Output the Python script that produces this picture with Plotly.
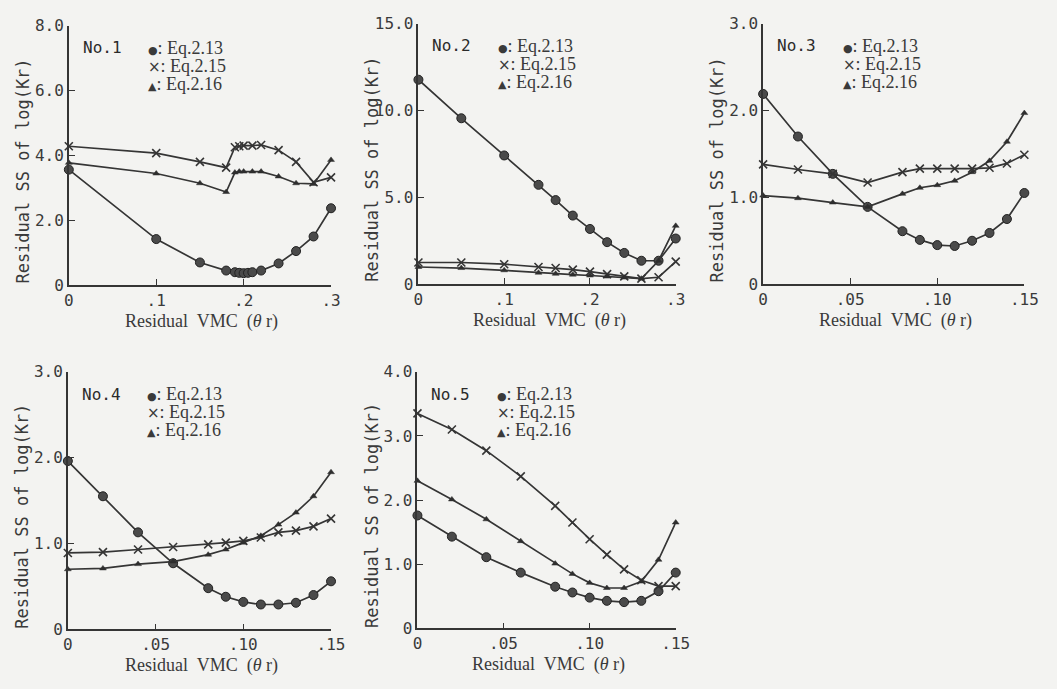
import plotly.graph_objects as go

W, H = 1057, 689

# ---------------- data ----------------
# Panel No.1
P1_X_CIRC = [0, 0.10, 0.15, 0.18, 0.19, 0.195, 0.20, 0.205, 0.21, 0.22, 0.24, 0.26, 0.28, 0.30]
P1_CIRC = [3.56, 1.42, 0.70, 0.45, 0.40, 0.38, 0.37, 0.38, 0.40, 0.45, 0.67, 1.05, 1.50, 2.37]
P1_X = [0, 0.10, 0.15, 0.18, 0.19, 0.195, 0.20, 0.21, 0.22, 0.24, 0.26, 0.28, 0.30]
P1_CROSS = [4.28, 4.07, 3.80, 3.62, 4.25, 4.28, 4.30, 4.30, 4.32, 4.16, 3.80, 3.17, 3.32]
P1_TRI = [3.77, 3.44, 3.14, 2.87, 3.47, 3.50, 3.50, 3.50, 3.50, 3.35, 3.14, 3.12, 3.86]

# Panel No.2
P2_X = [0, 0.05, 0.10, 0.14, 0.16, 0.18, 0.20, 0.22, 0.24, 0.26, 0.28, 0.30]
P2_CIRC = [11.77, 9.55, 7.41, 5.72, 4.84, 3.95, 3.18, 2.42, 1.80, 1.35, 1.35, 2.63]
P2_CROSS = [1.25, 1.25, 1.15, 0.99, 0.93, 0.84, 0.72, 0.58, 0.45, 0.32, 0.40, 1.30]
P2_TRI = [0.99, 0.93, 0.80, 0.66, 0.60, 0.55, 0.50, 0.44, 0.38, 0.32, 1.35, 3.36]

# Panel No.3
P3_X = [0, 0.02, 0.04, 0.06, 0.08, 0.09, 0.10, 0.11, 0.12, 0.13, 0.14, 0.15]
P3_CIRC = [2.19, 1.70, 1.27, 0.89, 0.61, 0.51, 0.45, 0.44, 0.50, 0.59, 0.75, 1.05]
P3_CROSS = [1.38, 1.32, 1.27, 1.17, 1.29, 1.33, 1.33, 1.33, 1.33, 1.34, 1.39, 1.49]
P3_TRI = [1.02, 0.99, 0.94, 0.89, 1.04, 1.11, 1.14, 1.19, 1.29, 1.42, 1.64, 1.97]

# Panel No.4
P4_X = [0, 0.02, 0.04, 0.06, 0.08, 0.09, 0.10, 0.11, 0.12, 0.13, 0.14, 0.15]
P4_CIRC = [1.96, 1.55, 1.13, 0.77, 0.48, 0.38, 0.32, 0.29, 0.29, 0.31, 0.40, 0.56]
P4_CROSS = [0.89, 0.90, 0.93, 0.96, 0.99, 1.01, 1.03, 1.07, 1.13, 1.15, 1.20, 1.29]
P4_TRI = [0.70, 0.71, 0.76, 0.79, 0.87, 0.93, 1.01, 1.09, 1.22, 1.36, 1.55, 1.83]

# Panel No.5
P5_X = [0, 0.02, 0.04, 0.06, 0.08, 0.09, 0.10, 0.11, 0.12, 0.13, 0.14, 0.15]
P5_CIRC = [1.76, 1.43, 1.11, 0.87, 0.65, 0.56, 0.48, 0.43, 0.41, 0.43, 0.58, 0.87]
P5_CROSS = [3.35, 3.10, 2.77, 2.37, 1.91, 1.65, 1.39, 1.15, 0.92, 0.75, 0.66, 0.66]
P5_TRI = [2.30, 2.01, 1.70, 1.36, 1.01, 0.85, 0.71, 0.63, 0.63, 0.73, 1.07, 1.65]

PANEL_NAMES = ["No.1", "No.2", "No.3", "No.4", "No.5"]
LEGEND_LABELS = ["Eq.2.13", "Eq.2.15", "Eq.2.16"]
LEGEND_SYMBOLS = ["\u25cf", "\u00d7", "\u25b2"]
X_TITLE = "Residual  VMC  (<i>\u03b8</i> r)"
Y_TITLE = "Residual SS of log(Kr)"

X_TICKS_A = [0, 0.1, 0.2, 0.3]
X_TEXT_A = ["0", ".1", ".2", ".3"]
X_TICKS_B = [0, 0.05, 0.10, 0.15]
X_TEXT_B = ["0", ".05", ".10", ".15"]

panels = [
    dict(series=[(P1_X_CIRC, P1_CIRC), (P1_X, P1_CROSS), (P1_X, P1_TRI)],
         xr=[0, 0.3], yr=[0, 8], xt=X_TICKS_A, xtt=X_TEXT_A,
         yt=[0, 2, 4, 6, 8], ytt=["0", "2.0", "4.0", "6.0", "8.0"],
         box=(65, 332, 17, 284)),
    dict(series=[(P2_X, P2_CIRC), (P2_X, P2_CROSS), (P2_X, P2_TRI)],
         xr=[0, 0.3], yr=[0, 15], xt=X_TICKS_A, xtt=X_TEXT_A,
         yt=[0, 5, 10, 15], ytt=["0", "5.0", "10.0", "15.0"],
         box=(421, 683, 15, 283)),
    dict(series=[(P3_X, P3_CIRC), (P3_X, P3_CROSS), (P3_X, P3_TRI)],
         xr=[0, 0.15], yr=[0, 3], xt=X_TICKS_B, xtt=X_TEXT_B,
         yt=[0, 1, 2, 3], ytt=["0", "1.0", "2.0", "3.0"],
         box=(772, 1038, 15, 283)),
    dict(series=[(P4_X, P4_CIRC), (P4_X, P4_CROSS), (P4_X, P4_TRI)],
         xr=[0, 0.15], yr=[0, 3], xt=X_TICKS_B, xtt=X_TEXT_B,
         yt=[0, 1, 2, 3], ytt=["0", "1.0", "2.0", "3.0"],
         box=(64, 332, 373, 638)),
    dict(series=[(P5_X, P5_CIRC), (P5_X, P5_CROSS), (P5_X, P5_TRI)],
         xr=[0, 0.15], yr=[0, 4], xt=X_TICKS_B, xtt=X_TEXT_B,
         yt=[0, 1, 2, 3, 4], ytt=["0", "1.0", "2.0", "3.0", "4.0"],
         box=(420, 683, 373, 637)),
]

# ---------------- style ----------------
BG = "#f3f3f1"
INK = "#353535"
MONO = "DejaVu Sans Mono"
SERIF = "Liberation Serif"

markers = [
    dict(symbol="circle", size=9, color="#4a4a4a", line=dict(color="#222222", width=1)),
    dict(symbol="x-thin-open", size=8, color=INK, line=dict(color=INK, width=1.6)),
    dict(symbol="triangle-up", size=6, color="#2e2e2e", line=dict(color="#2e2e2e", width=0.5)),
]


def px(xp):
    return xp / W


def py(yp):
    return 1 - yp / H


fig = go.Figure()
annotations = []
layout = {}

for i, p in enumerate(panels):
    n = i + 1
    xa = "x" if n == 1 else f"x{n}"
    ya = "y" if n == 1 else f"y{n}"
    x0, x1, y0, y1 = p["box"]
    for (xs, ys), mk in zip(p["series"], markers):
        fig.add_trace(go.Scatter(
            x=xs, y=ys, xaxis=xa, yaxis=ya, mode="lines+markers",
            line=dict(color=INK, width=1.7), marker=mk, cliponaxis=False,
            showlegend=False, hoverinfo="x+y"))
    common = dict(showgrid=False, zeroline=False, showline=True, linecolor=INK,
                  linewidth=1.7, ticks="inside", ticklen=6, tickwidth=1.4,
                  tickcolor=INK, tickfont=dict(family=MONO, size=16, color="#3a3a3a"))
    layout[f"xaxis{'' if n == 1 else n}"] = dict(
        domain=[px(x0), px(x1)], range=p["xr"], anchor=ya,
        tickmode="array", tickvals=p["xt"], ticktext=p["xtt"], ticklabelstandoff=0,
        **common)
    layout[f"yaxis{'' if n == 1 else n}"] = dict(
        domain=[py(y1), py(y0)], range=p["yr"], anchor=xa,
        tickmode="array", tickvals=p["yt"], ticktext=p["ytt"], ticklabelstandoff=0,
        **common)
    # axis titles
    annotations.append(dict(
        x=px((x0 + x1) / 2 + 2), y=py(y1 + 37), xref="paper", yref="paper",
        text=X_TITLE, showarrow=False, xanchor="center", yanchor="middle",
        font=dict(family=SERIF, size=18, color="#3a3a3a")))
    annotations.append(dict(
        x=px(x0 - 47), y=py((y0 + y1) / 2 + 16), xref="paper", yref="paper",
        text=Y_TITLE, showarrow=False, textangle=-90, xanchor="center", yanchor="middle",
        font=dict(family=MONO, size=17, color="#3a3a3a")))
    # panel name
    annotations.append(dict(
        x=px(x0 + 12), y=py(y0 + 23), xref="paper", yref="paper",
        text=PANEL_NAMES[i], showarrow=False, xanchor="left", yanchor="middle",
        font=dict(family=MONO, size=16, color="#2a2a2a")))
    # legend
    for k, (sym, lab) in enumerate(zip(LEGEND_SYMBOLS, LEGEND_LABELS)):
        annotations.append(dict(
            x=px(x0 + 79), y=py(y0 + 23 + 18.5 * k), xref="paper", yref="paper",
            text=f"<span style='font-family:DejaVu Sans;font-size:{11 if k != 1 else 15}px'>{sym}</span>: {lab}",
            showarrow=False, xanchor="left", yanchor="middle",
            font=dict(family=SERIF, size=18, color="#3a3a3a")))

fig.update_layout(
    width=W, height=H, margin=dict(l=0, r=0, t=0, b=0),
    paper_bgcolor=BG, plot_bgcolor=BG, annotations=annotations, **layout)

fig.write_html("out.html")
